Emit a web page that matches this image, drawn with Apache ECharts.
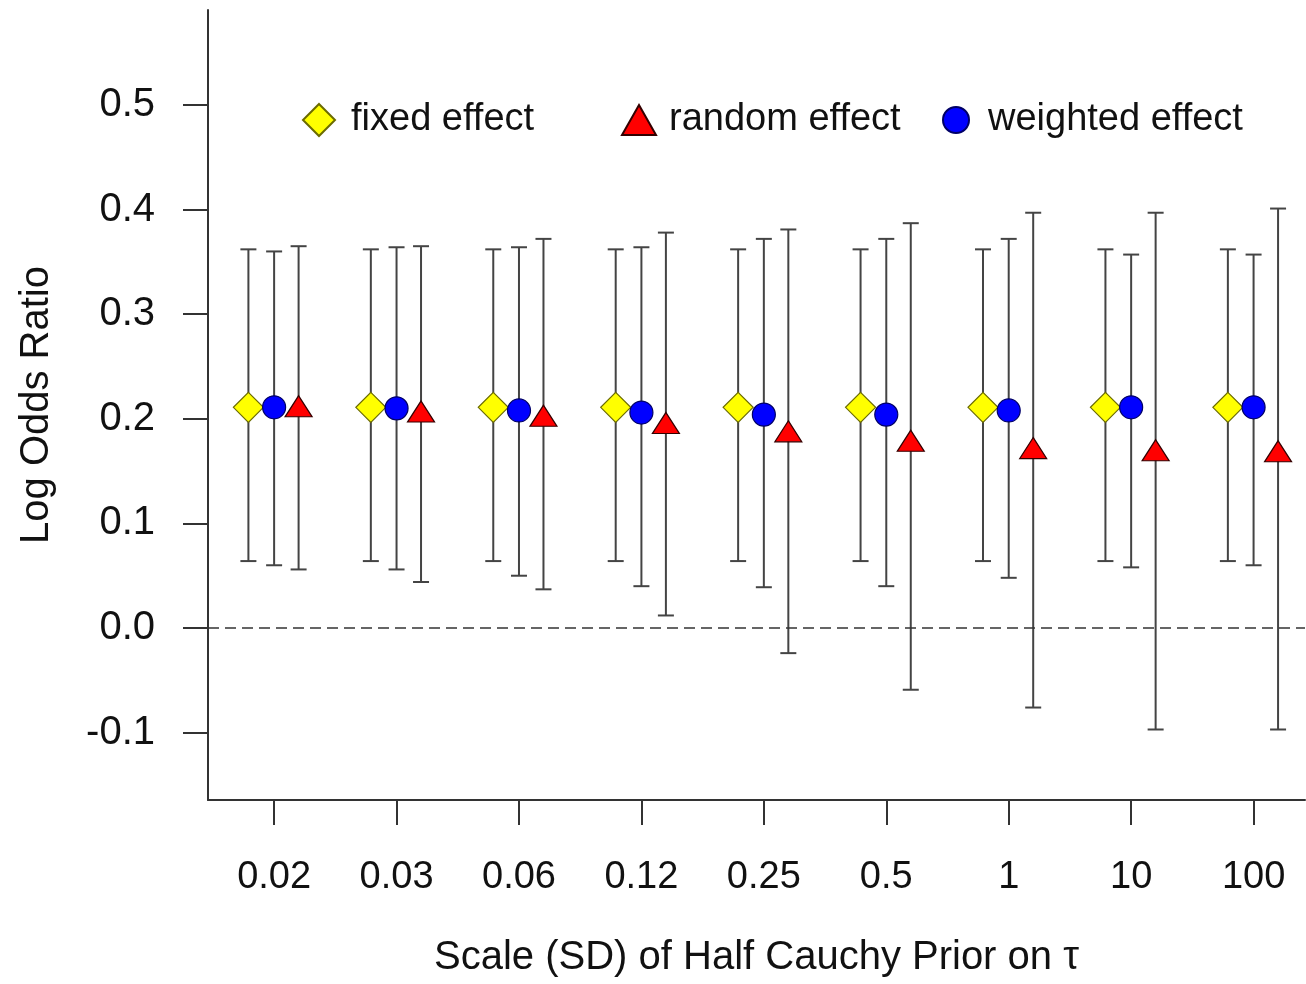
<!DOCTYPE html>
<html>
<head>
<meta charset="utf-8">
<script src="https://cdn.jsdelivr.net/npm/echarts@6/dist/echarts.min.js"></script>
<style>
  html, body { margin: 0; padding: 0; background: #fff; }
  #container { width: 1306px; height: 984px; }
</style>
</head>
<body>
<div id="container"></div>
<script>
// prior scales on the x axis
const scaleLabels = ['0.02', '0.03', '0.06', '0.12', '0.25', '0.5', '1', '10', '100'];
const yTicks = [-0.1, 0, 0.1, 0.2, 0.3, 0.4, 0.5];

// fixed effect (same for every scale)
const fixedEst = [0.211, 0.211, 0.211, 0.211, 0.211, 0.211, 0.211, 0.211, 0.211];
const fixedLow = [0.064, 0.064, 0.064, 0.064, 0.064, 0.064, 0.064, 0.064, 0.064];
const fixedHigh = [0.362, 0.362, 0.362, 0.362, 0.362, 0.362, 0.362, 0.362, 0.362];

// weighted effect
const weightedEst = [0.211, 0.210, 0.208, 0.206, 0.204, 0.204, 0.208, 0.211, 0.211];
const weightedLow = [0.060, 0.056, 0.050, 0.040, 0.039, 0.040, 0.048, 0.058, 0.060];
const weightedHigh = [0.360, 0.364, 0.364, 0.364, 0.372, 0.372, 0.372, 0.357, 0.357];

// random effect
const randomEst = [0.212, 0.207, 0.203, 0.196, 0.188, 0.179, 0.172, 0.170, 0.169];
const randomLow = [0.056, 0.044, 0.037, 0.012, -0.024, -0.059, -0.076, -0.097, -0.097];
const randomHigh = [0.365, 0.365, 0.372, 0.378, 0.381, 0.387, 0.397, 0.397, 0.401];

const fontFamily = '"Liberation Sans", Arial, sans-serif';
const textColor = '#111';
const axisColor = '#333';
const tickPos = scaleLabels.map(function (s, i) { return i + 1; });

// horizontal shift of each group inside a scale
const offsets = { fixed: -0.21, weighted: 0, random: 0.2 };

function points(est, shift) {
    return est.map(function (v, i) { return [i + 1 + shift, v]; });
}

function intervals(low, high, shift) {
    return low.map(function (v, i) { return [i + 1 + shift, v, high[i]]; });
}

function renderBar(params, api) {
    let x = api.value(0);
    let lo = api.coord([x, api.value(1)]);
    let hi = api.coord([x, api.value(2)]);
    let cap = 8;
    let style = { stroke: '#444', lineWidth: 2 };
    return {
        type: 'group',
        children: [
            { type: 'line', shape: { x1: lo[0], y1: lo[1], x2: hi[0], y2: hi[1] }, style: style },
            { type: 'line', shape: { x1: hi[0] - cap, y1: hi[1], x2: hi[0] + cap, y2: hi[1] }, style: style },
            { type: 'line', shape: { x1: lo[0] - cap, y1: lo[1], x2: lo[0] + cap, y2: lo[1] }, style: style }
        ]
    };
}

function barSeries(name, low, high, shift) {
    return {
        name: name,
        type: 'custom',
        renderItem: renderBar,
        data: intervals(low, high, shift),
        encode: { x: 0, y: [1, 2] },
        z: 1,
        silent: true
    };
}

// one legend per entry so each can sit where it does in the figure
function legendFor(name, left, w, h, gap) {
    return {
        data: [name],
        left: left,
        top: 95,
        itemWidth: w,
        itemHeight: h,
        selectedMode: false,
        textStyle: {
            fontSize: 38, color: textColor, fontFamily: fontFamily,
            lineHeight: 40, padding: [0, 0, 0, gap]
        }
    };
}

let myChart = echarts.init(document.getElementById('container'), null, { renderer: 'canvas' });

let option = {
    animation: false,
    backgroundColor: '#fff',
    grid: { left: 208, right: 1, top: 10, bottom: 184, containLabel: false },
    legend: [
        legendFor('fixed effect', 297, 32, 32, 11),
        legendFor('random effect', 616, 34, 30, 8),
        legendFor('weighted effect', 937, 26, 26, 14)
    ],
    xAxis: {
        type: 'value',
        min: 0.46,
        max: 9.42,
        splitLine: { show: false },
        axisLine: { show: true, onZero: false, lineStyle: { color: axisColor, width: 2 } },
        axisTick: { show: true, length: 25, customValues: tickPos, lineStyle: { color: axisColor, width: 2 } },
        axisLabel: {
            customValues: tickPos,
            margin: 59,
            fontSize: 38,
            color: textColor,
            fontFamily: fontFamily,
            formatter: function (v) { return scaleLabels[Math.round(v) - 1]; }
        },
        name: 'Scale (SD) of Half Cauchy Prior on τ',
        nameLocation: 'middle',
        nameGap: 138,
        nameTextStyle: { fontSize: 40, color: textColor, fontFamily: fontFamily }
    },
    yAxis: {
        type: 'value',
        min: -0.1644,
        max: 0.5908,
        splitLine: { show: false },
        axisLine: { show: true, onZero: false, lineStyle: { color: axisColor, width: 2 } },
        axisTick: { show: true, length: 25, customValues: yTicks, lineStyle: { color: axisColor, width: 2 } },
        axisLabel: {
            customValues: yTicks,
            margin: 53,
            fontSize: 40,
            color: textColor,
            fontFamily: fontFamily,
            formatter: function (v) { return v.toFixed(1); }
        },
        name: 'Log Odds Ratio',
        nameLocation: 'middle',
        nameRotate: 90,
        nameGap: 151,
        nameTextStyle: { fontSize: 40, color: textColor, fontFamily: fontFamily }
    },
    series: [
        barSeries('fixed bars', fixedLow, fixedHigh, offsets.fixed),
        barSeries('weighted bars', weightedLow, weightedHigh, offsets.weighted),
        barSeries('random bars', randomLow, randomHigh, offsets.random),
        {
            name: 'fixed effect',
            type: 'scatter',
            symbol: 'diamond',
            symbolSize: 30,
            z: 3,
            itemStyle: { color: '#ffff00', borderColor: '#6b6b00', borderWidth: 1.2, opacity: 1 },
            data: points(fixedEst, offsets.fixed),
            markLine: {
                silent: true,
                symbol: 'none',
                label: { show: false },
                lineStyle: { color: '#333', width: 1.5, type: [11, 6] },
                data: [{ yAxis: 0 }]
            }
        },
        {
            name: 'weighted effect',
            type: 'scatter',
            symbol: 'circle',
            symbolSize: 23,
            z: 3,
            itemStyle: { color: '#0000ff', borderColor: '#000066', borderWidth: 1.2, opacity: 1 },
            data: points(weightedEst, offsets.weighted)
        },
        {
            name: 'random effect',
            type: 'scatter',
            symbol: 'triangle',
            symbolSize: [27, 21],
            z: 3,
            itemStyle: { color: '#ff0000', borderColor: '#330000', borderWidth: 1.2, opacity: 1 },
            data: points(randomEst, offsets.random)
        }
    ]
};

myChart.setOption(option);
</script>
</body>
</html>
